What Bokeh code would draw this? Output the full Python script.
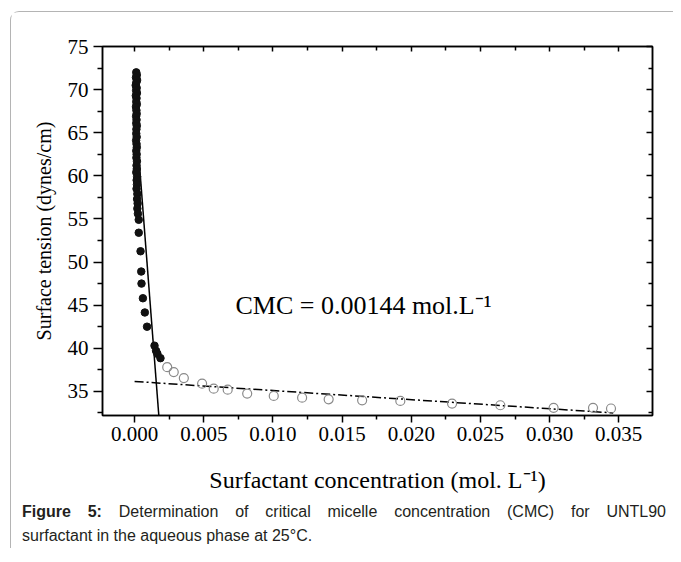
from bokeh.plotting import figure
from bokeh.layouts import column
from bokeh.models import (Range1d, LinearAxis, Label, FixedTicker, Div,
                          NumeralTickFormatter, CustomJSTickFormatter)
from bokeh.embed import file_html
from bokeh.resources import INLINE

# ---------------- data ----------------
below_cmc_x = [0.00012, 0.00016, 0.00010, 0.00018, 0.00012, 0.00008, 0.00015, 0.00011,
               0.00017, 0.00009, 0.00014, 0.00012, 0.00016, 0.00010, 0.00013, 0.00015,
               0.00011, 0.00014, 0.00012, 0.00016, 0.00013, 0.00012, 0.00015, 0.00011,
               0.00014, 0.00016, 0.00012, 0.00015, 0.00013, 0.00017, 0.00014, 0.00016,
               0.00012, 0.00018, 0.00015, 0.00017, 0.00014, 0.00020, 0.00018, 0.00022,
               0.00020, 0.00024, 0.00030, 0.00030, 0.00043, 0.00048, 0.00050, 0.00060,
               0.00074, 0.00090, 0.00144, 0.00155, 0.00165, 0.00187]
below_cmc_y = [72.0, 71.7, 71.4, 71.1, 70.8, 70.5, 70.2, 69.9,
               69.6, 69.3, 69.0, 68.6, 68.3, 68.0, 67.6, 67.2,
               66.9, 66.5, 66.1, 65.8, 65.4, 64.9, 64.5, 64.1,
               63.7, 63.3, 62.9, 62.5, 62.1, 61.7, 61.2, 60.8,
               60.4, 59.9, 59.5, 59.0, 58.5, 57.9, 57.3, 56.8,
               56.2, 55.6, 54.9, 53.4, 51.25, 48.9, 47.5, 45.8,
               44.15, 42.5, 40.3, 39.7, 39.35, 38.85]

above_cmc_x = [0.00236, 0.00283, 0.00356, 0.00488, 0.00572, 0.00673, 0.00814, 0.01006,
               0.01211, 0.01403, 0.01645, 0.01921, 0.02295, 0.02644, 0.03029, 0.03314,
               0.03444]
above_cmc_y = [37.81, 37.24, 36.54, 35.89, 35.31, 35.20, 34.74, 34.47,
               34.27, 34.08, 33.96, 33.89, 33.58, 33.39, 33.09, 33.09,
               33.01]

fit_low_x = [0.0, 0.00178]
fit_low_y = [68.6, 31.6]
fit_high_x = [0.0, 0.0346]
fit_high_y = [36.15, 32.5]

x_major_ticks = [0.000, 0.005, 0.010, 0.015, 0.020, 0.025, 0.030, 0.035]
x_minor_ticks = [0.0025, 0.0075, 0.0125, 0.0175, 0.0225, 0.0275, 0.0325]
y_major_ticks = [35, 40, 45, 50, 55, 60, 65, 70, 75]
y_minor_ticks = [32.5, 37.5, 42.5, 47.5, 52.5, 57.5, 62.5, 67.5, 72.5]

x_title = "Surfactant concentration (mol. L\u207b\u00b9)"
y_title = "Surface tension (dynes/cm)"
cmc_text = "CMC = 0.00144 mol.L\u207b\u00b9"
caption_bold = "Figure 5:"
caption_line1 = "Determination of critical micelle concentration (CMC) for UNTL90"
caption_line2 = "surfactant in the aqueous phase at 25\u00b0C."

# ---------------- main chart ----------------
SERIF = "Liberation Serif"
W = 662

p = figure(width=W, height=483, output_backend="svg", toolbar_location=None,
           x_range=Range1d(-0.00232, 0.03744), y_range=Range1d(32.2, 75),
           min_border_left=91, min_border_right=21, min_border_top=34,
           min_border_bottom=78, background_fill_color="white",
           border_fill_color="white")
p.xgrid.visible = False
p.ygrid.visible = False
p.outline_line_color = "black"
p.outline_line_width = 1.5

xt = FixedTicker(ticks=x_major_ticks, minor_ticks=x_minor_ticks)
yt = FixedTicker(ticks=y_major_ticks, minor_ticks=y_minor_ticks)

xa = p.xaxis[0]
xa.ticker = xt
xa.formatter = NumeralTickFormatter(format="0.000")
xa.axis_label = x_title
ya = p.yaxis[0]
ya.ticker = yt
ya.axis_label = y_title

for ax in (xa, ya):
    ax.axis_line_width = 1.5
    ax.major_tick_line_width = 1.5
    ax.minor_tick_line_width = 1.5
    ax.major_label_text_font = SERIF
    ax.major_label_text_font_size = "21px"
    ax.major_label_text_color = "black"
    ax.axis_label_text_font = SERIF
    ax.axis_label_text_font_style = "normal"
    ax.axis_label_text_color = "black"

xa.axis_label_text_font_size = "24px"
ya.axis_label_text_font_size = "20px"

xa.major_tick_in = 0
xa.major_tick_out = 7
xa.minor_tick_in = 0
xa.minor_tick_out = 4
xa.major_label_standoff = 4
xa.axis_label_standoff = 23

ya.major_tick_in = 0
ya.major_tick_out = 9
ya.minor_tick_in = 0
ya.minor_tick_out = 5
ya.major_label_standoff = 5
ya.axis_label_standoff = 10

blank = CustomJSTickFormatter(code="return ''")
top = LinearAxis(ticker=xt, formatter=blank, major_label_standoff=0,
                 major_tick_in=5, major_tick_out=0, minor_tick_in=4, minor_tick_out=0,
                 axis_line_width=1.5, major_tick_line_width=1.5, minor_tick_line_width=1.5)
right = LinearAxis(ticker=yt, formatter=blank, major_label_standoff=0,
                   major_tick_in=6, major_tick_out=0, minor_tick_in=4, minor_tick_out=0,
                   axis_line_width=1.5, major_tick_line_width=1.5, minor_tick_line_width=1.5)
p.add_layout(top, "above")
p.add_layout(right, "right")

# fitted lines
p.line(fit_low_x, fit_low_y, line_color="black", line_width=1.5)
p.line(fit_high_x, fit_high_y, line_color="black", line_width=1.5, line_dash="9 3 2 3")

# data
p.scatter(above_cmc_x, above_cmc_y, marker="circle", size=9, fill_color=None,
          line_color="#8a8a8a", line_width=1.2)
p.scatter(below_cmc_x, below_cmc_y, marker="circle", size=7.5, fill_color="#111111",
          line_color="#111111")

# CMC annotation
p.add_layout(Label(x=0.00729, y=45.0, text=cmc_text, text_font=SERIF,
                   text_font_size="26px", text_color="black", text_baseline="alphabetic"))

# ---------------- caption ----------------
caption_html = (
    '<div style="display:block;width:644px;text-align:justify;text-align-last:justify;">'
    '<b>' + caption_bold + '</b> ' + caption_line1 + '</div>'
    '<div style="display:block;width:644px;">' + caption_line2 + '</div>'
)
cap = Div(text=caption_html, width=644, height=48, margin=(5, 0, 0, 11),
          styles={"font-family": "'Liberation Sans', Arial, sans-serif",
                  "font-size": "16px", "line-height": "24px",
                  "color": "#231f20"})

layout = column(p, cap, spacing=0, margin=(11, 0, 0, 10),
                styles={"border-top": "1px solid #b4b4b4",
                        "border-left": "1px solid #b4b4b4",
                        "border-top-left-radius": "9px"})

open("out.html", "w").write(file_html(layout, INLINE))
